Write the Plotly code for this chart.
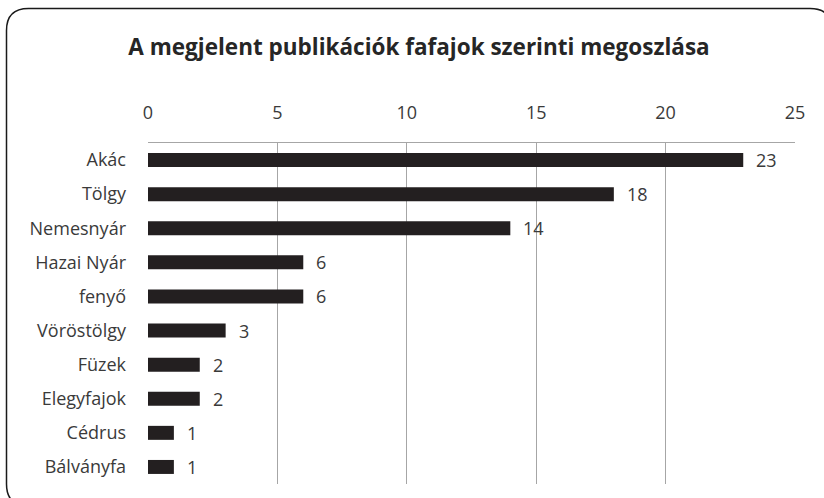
import plotly.graph_objects as go

categories = ["Akác", "Tölgy", "Nemesnyár", "Hazai Nyár", "fenyő", "Vöröstölgy",
              "Füzek", "Elegyfajok", "Cédrus", "Bálványfa"]
values = [23, 18, 14, 6, 6, 3, 2, 2, 1, 1]
tick_vals = [0, 5, 10, 15, 20, 25]
title_text = "A megjelent publikációk fafajok szerinti megoszlása"

W, H = 824, 498
L, R, T, B = 148, 29, 143, 14
PW, PH = W - L - R, H - T - B

def px(x):
    return (x - L) / PW

def py(y):
    return (H - B - y) / PH

FONT = "Open Sans"
TXT = "#3a3a3a"

fig = go.Figure()
fig.add_trace(go.Bar(
    x=values, y=categories, orientation="h",
    marker=dict(color="#231F20", line=dict(width=0)),
    width=0.41, hoverinfo="skip",
))

annotations = [
    dict(x=v, y=c, xref="x", yref="y", text=str(v), showarrow=False,
         xanchor="left", yanchor="middle", xshift=11,
         font=dict(family=FONT, size=18, color=TXT))
    for c, v in zip(categories, values)
]

# rounded frame
x0, y0, x1, y1, r = 6.5, 8.5, 832, 506, 22
path = (f"M {px(x0)},{py(y0 + r)} Q {px(x0)},{py(y0)} {px(x0 + r)},{py(y0)} "
        f"L {px(x1 - r)},{py(y0)} Q {px(x1)},{py(y0)} {px(x1)},{py(y0 + r)} "
        f"L {px(x1)},{py(y1 - r)} Q {px(x1)},{py(y1)} {px(x1 - r)},{py(y1)} "
        f"L {px(x0 + r)},{py(y1)} Q {px(x0)},{py(y1)} {px(x0)},{py(y1 - r)} Z")

fig.update_layout(
    width=W, height=H,
    margin=dict(l=L, r=R, t=T, b=B, pad=0),
    paper_bgcolor="white", plot_bgcolor="white",
    showlegend=False,
    title=dict(text=f"<b>{title_text}</b>", x=419 / W, xanchor="center",
               y=1 - 47 / H, yanchor="middle",
               font=dict(family=FONT, size=22.5, color="#262626")),
    xaxis=dict(side="top", range=[0, 25], tickvals=tick_vals,
               showgrid=True, gridcolor="#A6A6A6", gridwidth=1,
               showline=True, linecolor="#A6A6A6", linewidth=1,
               zeroline=False, ticks="", ticklabelstandoff=16,
               tickfont=dict(family=FONT, size=18, color=TXT)),
    yaxis=dict(autorange="reversed", showgrid=False, zeroline=False,
               showline=False, ticks="", ticklabelstandoff=21,
               tickfont=dict(family=FONT, size=18, color=TXT)),
    annotations=annotations,
    shapes=[dict(type="path", xref="paper", yref="paper", path=path,
                 line=dict(color="#1a1a1a", width=1.5), layer="above")],
)

fig.write_html("out.html", config={"displayModeBar": False},
               post_script="document.body.style.margin='0';")
